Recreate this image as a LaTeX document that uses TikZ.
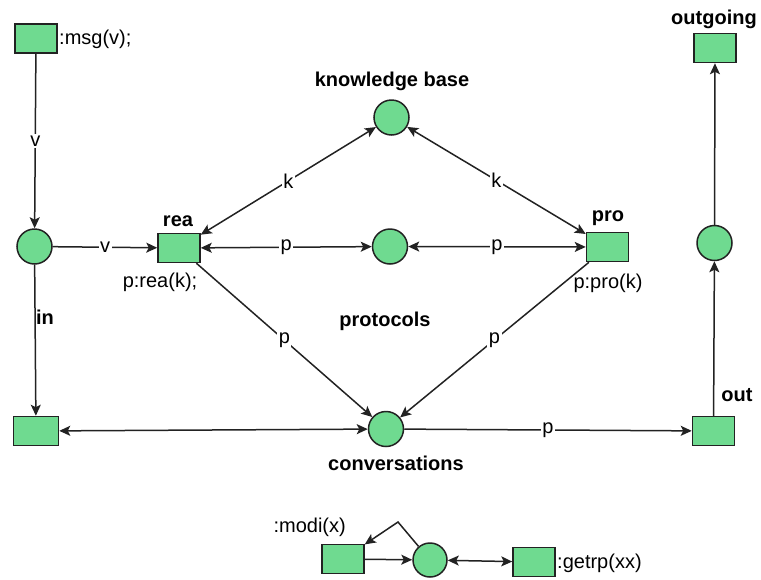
\documentclass[tikz,border=0pt]{standalone}
\usepackage{fontspec}
\setmainfont{Liberation Sans}
\usetikzlibrary{arrows.meta}
\definecolor{pn}{HTML}{6FDA90}
\definecolor{ln}{HTML}{222222}
\begin{document}
\begin{tikzpicture}[x=1pt,y=-1pt,
 every node/.style={font=\fontsize{20}{22}\selectfont, inner sep=0pt},
 trans/.style={draw=ln, line width=1.5pt, fill=pn, minimum width=42pt, minimum height=29pt},
 place/.style={draw=ln, circle, line width=1.5pt, fill=pn, minimum size=35pt},
 arc/.style={line width=1.5pt, draw=ln, -{Stealth[length=11pt,width=10pt,inset=2.5pt]}},
 darc/.style={line width=1.5pt, draw=ln, {Stealth[length=11pt,width=10pt,inset=2.5pt]}-{Stealth[length=11pt,width=10pt,inset=2.5pt]}},
 lbl/.style={fill=white, inner sep=1.5pt},
 pname/.style={font=\fontsize{20}{22}\selectfont\bfseries}]
\useasboundingbox (0,0) rectangle (761,579);
% nodes
\node[trans] (msg) at (36,38.5) {};
\node[place] (inP) at (34.5,246.5) {};
\node[trans] (rea) at (179,248) {};
\node[place] (midP) at (390,246.5) {};
\node[place] (kb) at (391.5,117.5) {};
\node[trans] (pro) at (607.5,247) {};
\node[trans, minimum width=45pt] (inT) at (36,431) {};
\node[place] (conv) at (386,429) {};
\node[trans] (out) at (713.5,431) {};
\node[place] (rightP) at (714.5,243) {};
\node[trans] (outgoing) at (715,48) {};
\node[trans] (modi) at (343,559) {};
\node[place, minimum size=34pt] (botP) at (430,560) {};
\node[trans] (getrp) at (534,562) {};
\coordinate (bend) at (398,522);
% names and inscriptions
\node[anchor=west] (msgT) at (59,39) {:msg(v);};
\node[pname] (kbN) at (392,81) {knowledge base};
\node[pname] (reaN) at (178,221) {rea};
\node[pname] (proN) at (608,218) {pro};
\node[pname] (protN) at (385,321) {protocols};
\node[pname] (inN) at (45,317) {in};
\node[pname] (convN) at (396,463) {conversations};
\node[pname] (outN) at (737,395) {out};
\node[pname] (outgN) at (714,19) {outgoing};
\node (reaT) at (160,282) {p:rea(k);};
\node (proT) at (608,283) {p:pro(k)};
\node[anchor=east] (modiT) at (346,527) {:modi(x)};
\node[anchor=west] (getrpT) at (557,563) {:getrp(xx)};
% arcs
\draw[arc] (msg) -- node[lbl]{v} (inP);
\draw[arc] (inP) -- node[lbl]{v} (rea);
\draw[arc] (inP) -- (inT);
\draw[darc] (rea) -- node[lbl]{k} (kb);
\draw[darc] (kb) -- node[lbl]{k} (pro);
\draw[darc] (rea) -- node[lbl]{p} (midP);
\draw[darc] (midP) -- node[lbl]{p} (pro);
\draw[arc] (rea) -- node[lbl]{p} (conv);
\draw[arc] (pro) -- node[lbl]{p} (conv);
\draw[darc] (inT) -- (conv);
\draw[arc] (conv) -- node[lbl]{p} (out);
\draw[arc] (out) -- (rightP);
\draw[arc] (rightP) -- (outgoing);
\draw[arc] (modi) -- (botP);
\draw[arc] (botP) -- (bend) -- (modi);
\draw[darc] (botP) -- (getrp);
\end{tikzpicture}
\end{document}
